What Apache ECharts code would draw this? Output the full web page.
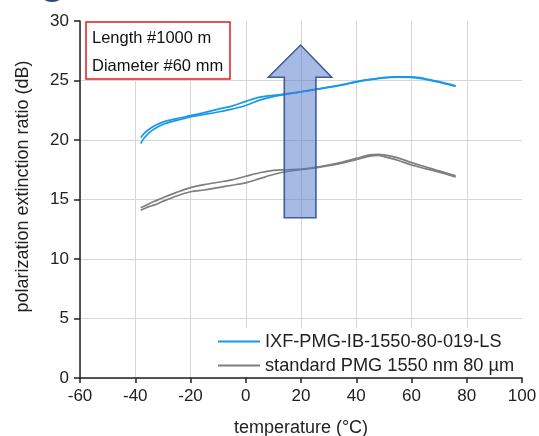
<!DOCTYPE html>
<html>
<head>
<meta charset="utf-8">
<script src="https://cdn.jsdelivr.net/npm/echarts@6/dist/echarts.min.js"></script>
<style>
html,body{margin:0;padding:0;background:#fff;overflow:hidden;}
#c{width:539px;height:436px;}
</style>
</head>
<body>
<div id="c"></div>
<script>
// ---- data ----
const xTicks = [-60, -40, -20, 0, 20, 40, 60, 80, 100];
const yTicks = [0, 5, 10, 15, 20, 25, 30];
const seriesNames = ['IXF-PMG-IB-1550-80-019-LS', 'standard PMG 1550 nm 80 µm'];

const blueTemps = [-38, -37, -35, -33, -30, -25, -20, -15, -10, -5, 0, 5, 10, 15, 20, 25, 30, 35, 40, 45, 50, 55, 60, 65, 70, 76];
const blueUp    = [20.2, 20.5, 20.9, 21.2, 21.5, 21.8, 22.05, 22.3, 22.6, 22.85, 23.25, 23.6, 23.75, 23.9, 24.05, 24.25, 24.45, 24.65, 24.9, 25.1, 25.25, 25.3, 25.3, 25.15, 24.9, 24.55];
const blueDown  = [19.7, 20.1, 20.6, 20.95, 21.3, 21.65, 21.95, 22.15, 22.35, 22.6, 22.9, 23.35, 23.65, 23.85, 24.05, 24.22, 24.42, 24.62, 24.87, 25.07, 25.22, 25.28, 25.27, 25.1, 24.85, 24.5];

const greyTemps = [-38, -35, -33, -30, -25, -20, -15, -10, -5, 0, 5, 10, 15, 20, 25, 30, 35, 40, 45, 48, 50, 55, 60, 65, 70, 76];
const greyUp    = [14.3, 14.65, 14.85, 15.15, 15.6, 16.0, 16.25, 16.45, 16.65, 16.95, 17.25, 17.45, 17.5, 17.55, 17.7, 17.9, 18.15, 18.45, 18.75, 18.8, 18.75, 18.5, 18.1, 17.75, 17.4, 17.0];
const greyDown  = [14.1, 14.4, 14.55, 14.85, 15.3, 15.65, 15.8, 16.0, 16.2, 16.4, 16.75, 17.1, 17.35, 17.5, 17.65, 17.85, 18.05, 18.35, 18.65, 18.7, 18.6, 18.3, 17.9, 17.6, 17.3, 16.9];

const boxLines = ['Length #1000 m', 'Diameter #60 mm'];
const xName = 'temperature (°C)';
const yName = 'polarization extinction ratio (dB)';

// annotation arrow outline, in data units (°C, dB)
const arrowOutline = [[13.95,13.47],[13.95,25.27],[8.2,25.27],[19.85,27.98],[31.1,25.27],[25.4,25.27],[25.4,13.47]];

function pairs(xs, ys){ return xs.map((x,i)=>[x, ys[i]]); }

const BLUE = '#1a98e8';
const GREY = '#7f7f7f';
const FONT = 'Liberation Sans, Arial, sans-serif';

const chart = echarts.init(document.getElementById('c'), null, {renderer:'canvas', width: 539, height: 436});

function lineSeries(name, data, color){
  return {
    name: name, type: 'line', data: data, symbol: 'none', smooth: 0.3,
    lineStyle: {color: color, width: 1.7}, itemStyle: {color: color},
    emphasis: {disabled: true}, animation: false
  };
}

chart.setOption({
  animation: false,
  backgroundColor: '#fff',
  grid: {left: 80, right: 17, top: 21, bottom: 58, containLabel: false, outerBoundsMode: 'none'},
  xAxis: {
    type: 'value', min: xTicks[0], max: xTicks[xTicks.length-1], interval: 20,
    name: xName, nameLocation: 'middle', nameGap: 41,
    nameTextStyle: {fontFamily: FONT, fontSize: 18, color: '#222'},
    axisLine: {show: true, onZero: false, lineStyle: {color: '#222', width: 1.5}},
    axisTick: {show: true, length: 5, lineStyle: {color: '#222', width: 1.5}},
    axisLabel: {fontFamily: FONT, fontSize: 17, color: '#222', margin: 10},
    splitLine: {show: true, showMaxLine: false, lineStyle: {color: '#d6d6d6', width: 1}}
  },
  yAxis: {
    type: 'value', min: yTicks[0], max: yTicks[yTicks.length-1], interval: 5,
    name: yName, nameLocation: 'middle', nameGap: 48,
    nameTextStyle: {fontFamily: FONT, fontSize: 18, color: '#222', padding: [0,0,0,26]},
    axisLine: {show: true, onZero: false, lineStyle: {color: '#222', width: 1.5}},
    axisTick: {show: true, length: 6, lineStyle: {color: '#222', width: 1.5}},
    axisLabel: {fontFamily: FONT, fontSize: 17, color: '#222', margin: 11},
    splitLine: {show: true, showMaxLine: false, lineStyle: {color: '#d6d6d6', width: 1}}
  },
  legend: {
    data: seriesNames, orient: 'vertical', left: 214, top: 331,
    itemWidth: 42, itemHeight: 14, itemGap: 3,
    padding: [0, 4, 0, 4],
    textStyle: {fontFamily: FONT, fontSize: 18.2, color: '#222', lineHeight: 21},
    selectedMode: false, icon: 'path://M0,6 L42,6 L42,8 L0,8 Z'
  },
  series: [
    lineSeries(seriesNames[1], pairs(greyTemps, greyUp), GREY),
    lineSeries(seriesNames[1], pairs(greyTemps, greyDown), GREY),
    lineSeries(seriesNames[0], pairs(blueTemps, blueUp), BLUE),
    lineSeries(seriesNames[0], pairs(blueTemps, blueDown), BLUE)
  ]
});

const arrowPts = arrowOutline.map(p => chart.convertToPixel({gridIndex: 0}, p));

chart.setOption({
  graphic: [
    {type: 'ellipse', shape: {cx: 52, cy: -9, rx: 13, ry: 11}, style: {fill: '#27478a'}, silent: true},
    {type: 'rect', shape: {x: 213, y: 328, width: 309, height: 48.5}, z: 3, silent: true,
     style: {fill: '#fff'}},
    {type: 'rect', shape: {x: 86, y: 22, width: 144, height: 57},
     style: {fill: '#fff', stroke: '#e21b1b', lineWidth: 1.5}, z: 50},
    {type: 'text', x: 92, y: 38.5, z: 51,
     style: {text: boxLines[0], font: '16.5px ' + FONT, fill: '#111', textVerticalAlign: 'middle'}},
    {type: 'text', x: 92, y: 66.5, z: 51,
     style: {text: boxLines[1], font: '16.5px ' + FONT, fill: '#111', textVerticalAlign: 'middle'}},
    {type: 'polygon', shape: {points: arrowPts}, z: 60,
     style: {fill: 'rgba(78,118,200,0.5)', stroke: '#3d5d9c', lineWidth: 1.6}}
  ]
});
</script>
</body>
</html>
